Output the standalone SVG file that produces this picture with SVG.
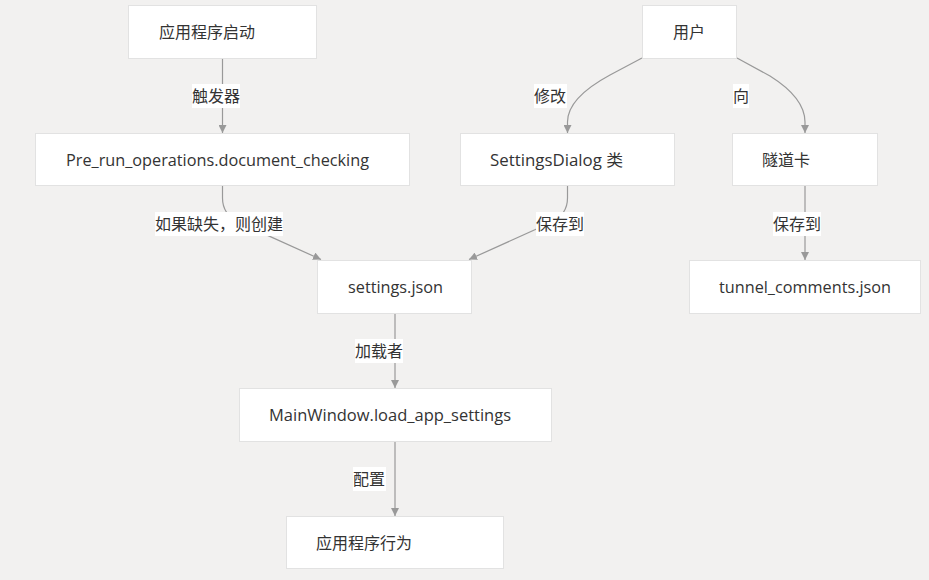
<svg xmlns="http://www.w3.org/2000/svg" width="929" height="580" viewBox="0 0 929 580">
<defs>
<style>
.bg{fill:#f2f1f0}
.node rect{fill:#ffffff;stroke:#e2e2e2;stroke-width:1}
.node text,.lbl text{font-family:"Open Sans","Noto Sans CJK SC",sans-serif;font-size:16px;fill:#333333;dominant-baseline:central}
.edge{fill:none;stroke:#999999;stroke-width:1.2;marker-end:url(#arr)}
.lbl rect{fill:#ffffff}
</style>
<marker id="arr" viewBox="0 0 10 10" refX="10" refY="5" markerWidth="8" markerHeight="8" markerUnits="userSpaceOnUse" orient="auto">
<path d="M0,0 L10,5 L0,10 z" fill="#999999"/>
</marker>
</defs>
<rect class="bg" x="0" y="0" width="929" height="580"/>

<g id="connectors">
<path class="edge" d="M222.5,59 V133"/>
<path class="edge" d="M222.5,186 V198 Q222.5,214 238,222 L321,259.5"/>
<path class="edge" d="M567.5,186 V198 Q567.5,214 552,222 L469,259.5"/>
<path class="edge" d="M642,58 L610,75 Q567.5,98 567.5,122 V133"/>
<path class="edge" d="M737,58 L770,76 Q805,98 805,122 V133"/>
<path class="edge" d="M805,186 V260"/>
<path class="edge" d="M395,314 V388"/>
<path class="edge" d="M395,442 V516"/>
<g class="lbl">
<rect x="192" y="84" width="48" height="24"/><text x="192" y="96">触发器</text>
<rect x="155" y="212" width="128" height="24"/><text x="155" y="224">如果缺失，则创建</text>
<rect x="536" y="212" width="48" height="24"/><text x="536" y="224">保存到</text>
<rect x="534" y="84" width="33" height="24"/><text x="534" y="96">修改</text>
<rect x="733" y="84" width="16" height="24"/><text x="733" y="96">向</text>
<rect x="773" y="212" width="48" height="24"/><text x="773" y="224">保存到</text>
<rect x="355" y="339" width="48" height="24"/><text x="355" y="351">加载者</text>
<rect x="353" y="467" width="33" height="24"/><text x="353" y="479">配置</text>
</g>
</g>

<g id="n_start" class="node"><rect x="128.5" y="5.5" width="188" height="53"/><text x="159" y="32">应用程序启动</text></g>
<g id="n_pre" class="node"><rect x="35.5" y="133.5" width="374" height="52"/><text x="66" y="160" textLength="303" lengthAdjust="spacingAndGlyphs">Pre_run_operations.document_checking</text></g>
<g id="n_settings" class="node"><rect x="317.5" y="260.5" width="154" height="53"/><text x="348" y="287" textLength="95" lengthAdjust="spacingAndGlyphs">settings.json</text></g>
<g id="n_user" class="node"><rect x="642.5" y="5.5" width="94" height="53"/><text x="673" y="32">用户</text></g>
<g id="n_dialog" class="node"><rect x="460.5" y="133.5" width="214" height="52"/><text x="490" y="160" textLength="133" lengthAdjust="spacingAndGlyphs">SettingsDialog 类</text></g>
<g id="n_tunnel" class="node"><rect x="732.5" y="133.5" width="145" height="52"/><text x="762" y="160">隧道卡</text></g>
<g id="n_comments" class="node"><rect x="689.5" y="260.5" width="231" height="53"/><text x="719" y="287" textLength="172" lengthAdjust="spacingAndGlyphs">tunnel_comments.json</text></g>
<g id="n_main" class="node"><rect x="239.5" y="388.5" width="312" height="53"/><text x="269" y="415" textLength="242" lengthAdjust="spacingAndGlyphs">MainWindow.load_app_settings</text></g>
<g id="n_behav" class="node"><rect x="286.5" y="516.5" width="217" height="52"/><text x="316" y="543">应用程序行为</text></g>
</svg>
